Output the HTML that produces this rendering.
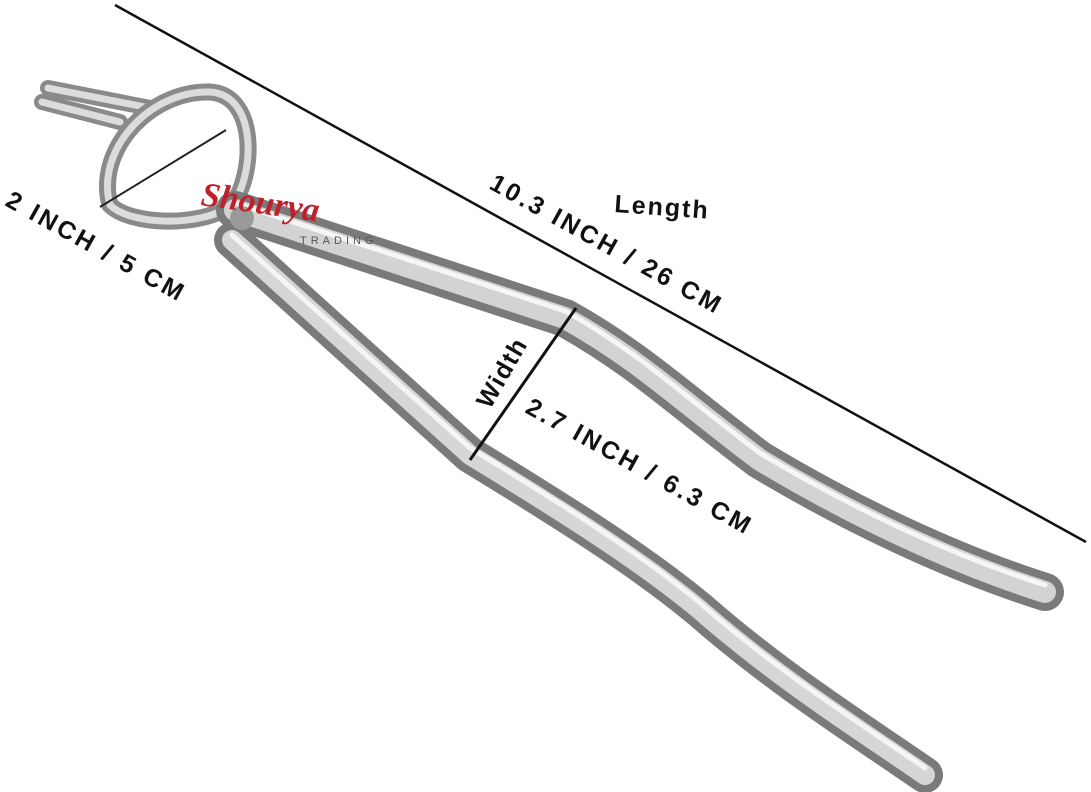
<!DOCTYPE html>
<html><head><style>
html,body{margin:0;padding:0;background:#fff;}
svg{display:block;}
text{font-family:"Liberation Sans",sans-serif;font-weight:bold;fill:#111;}
</style></head><body>
<svg width="1091" height="792" viewBox="0 0 1091 792">
<line x1="115" y1="5" x2="1086" y2="542" stroke="#111" stroke-width="2.5"/>
<path d="M48,88 L150,108 M42,102 L120,122" fill="none" stroke="#8a8a8a" stroke-width="16" stroke-linecap="round"/>
<path d="M48,88 L150,108 M42,102 L120,122" fill="none" stroke="#dcdcdc" stroke-width="7" stroke-linecap="round"/>
<path d="M110,205 C95,150 150,90 210,92 C258,95 255,175 232,205 C200,228 130,225 110,205 Z" fill="none" stroke="#8a8a8a" stroke-width="17"/>
<path d="M110,205 C95,150 150,90 210,92 C258,95 255,175 232,205 C200,228 130,225 110,205 Z" fill="none" stroke="#dcdcdc" stroke-width="7"/>
<path d="M232,240 L470,455 C560,510 640,560 700,610 C780,680 860,730 925,775" fill="none" stroke="#7a7a7a" stroke-width="36" stroke-linecap="round"/>
<path d="M232,240 L470,455 C560,510 640,560 700,610 C780,680 860,730 925,775" fill="none" stroke="#d6d6d6" stroke-width="20" stroke-linecap="round"/>
<path d="M232,235 L470,448 C560,503 640,553 700,603 C780,673 860,723 925,768" fill="none" stroke="#f5f5f5" stroke-width="5" stroke-linecap="round"/>
<path d="M235,210 L565,318 C640,360 680,400 760,460 C860,520 960,565 1045,592" fill="none" stroke="#7a7a7a" stroke-width="38" stroke-linecap="round"/>
<path d="M235,210 L565,318 C640,360 680,400 760,460 C860,520 960,565 1045,592" fill="none" stroke="#d3d3d3" stroke-width="22" stroke-linecap="round"/>
<path d="M235,203 L565,311 C640,353 680,393 760,453 C860,513 960,558 1045,585" fill="none" stroke="#f6f6f6" stroke-width="5" stroke-linecap="round"/>
<circle cx="242" cy="218" r="12" fill="#9a9a9a"/>
<line x1="100" y1="207" x2="226" y2="130" stroke="#222" stroke-width="2"/>
<line x1="576" y1="308" x2="470" y2="460" stroke="#111" stroke-width="3"/>
<text x="200" y="205" font-size="34" style="fill:#c0202a;font-family:'Liberation Serif',serif;font-style:italic" transform="rotate(8 200 205)">Shourya</text>
<text x="300" y="244" font-size="11" style="fill:#555;font-weight:normal" letter-spacing="4">TRADING</text>
<text x="614" y="212" font-size="25" letter-spacing="2" transform="rotate(4 614 212)">Length</text>
<text x="488" y="188" font-size="25" letter-spacing="3" transform="rotate(29 488 188)">10.3 INCH / 26 CM</text>
<text x="4" y="205" font-size="25" letter-spacing="3" transform="rotate(29 4 205)">2 INCH / 5 CM</text>
<text x="490" y="410" font-size="25" letter-spacing="1.5" transform="rotate(-60 490 410)">Width</text>
<text x="524" y="412" font-size="25" letter-spacing="3" transform="rotate(29 524 412)">2.7 INCH / 6.3 CM</text>
</svg>
</body></html>
